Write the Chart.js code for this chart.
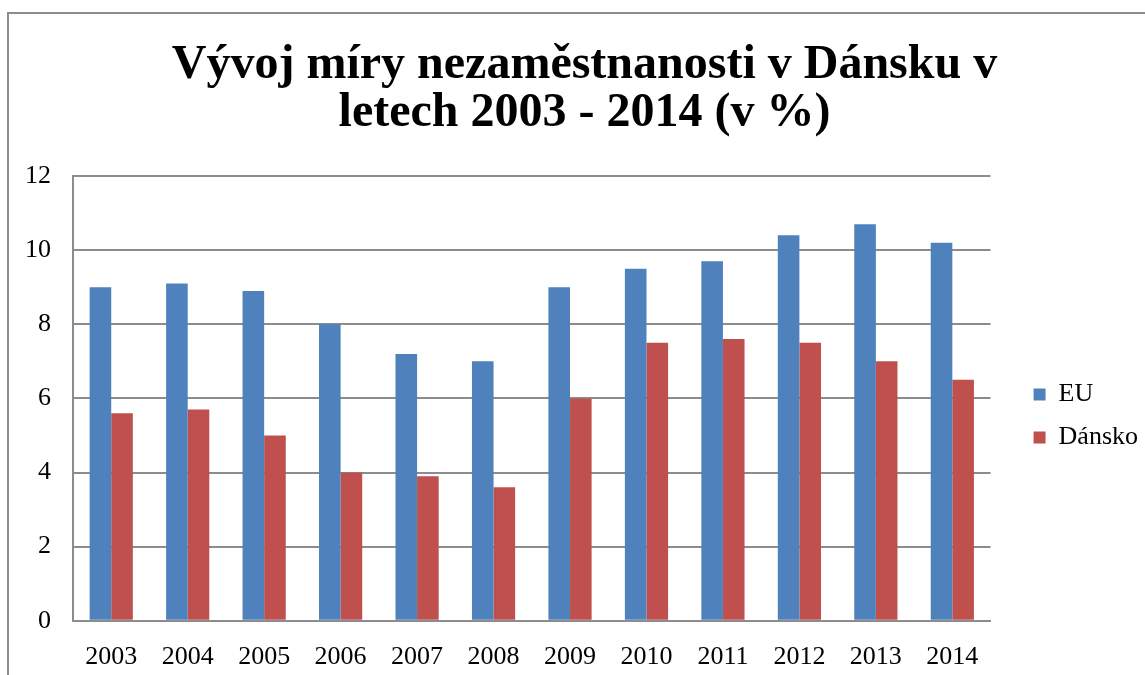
<!DOCTYPE html>
<html>
<head>
<meta charset="utf-8">
<script src="https://cdn.jsdelivr.net/npm/chart.js@4.4.1/dist/chart.umd.min.js"></script>
<style>
  body { margin: 0; background: #fff; }
  #frame { position: absolute; left: 7px; top: 12px; width: 1160px; height: 700px; border: 2px solid #8c8c8c; }
  #wrap { position: absolute; left: 0; top: 0; width: 1145px; height: 675px; }
</style>
</head>
<body>
<div id="frame"></div>
<div id="wrap"><canvas id="chart"></canvas></div>
<script>
// data
const years = ['2003', '2004', '2005', '2006', '2007', '2008', '2009', '2010', '2011', '2012', '2013', '2014'];
const euValues = [9.0, 9.1, 8.9, 8.0, 7.2, 7.0, 9.0, 9.5, 9.7, 10.4, 10.7, 10.2];
const dkValues = [5.6, 5.7, 5.0, 4.0, 3.9, 3.6, 6.0, 7.5, 7.6, 7.5, 7.0, 6.5];
const yTicks = [0, 2, 4, 6, 8, 10, 12];

const serif = '"Liberation Serif", "Times New Roman", serif';
Chart.defaults.font.family = serif;
Chart.defaults.color = '#000';

// nudge legend and title like in the picture
const nudge = {
    id: 'nudge',
    afterLayout(chart) {
        const lg = chart.legend;
        lg.left += 26; lg.right += 26;
        lg.top += 73; lg.bottom += 73;
        const t = chart.titleBlock;
        t.left += 22; t.right += 22;
    }
};

const ctx = document.getElementById('chart').getContext('2d');
const chart = new Chart(ctx, {
    type: 'bar',
    data: {
        labels: years,
        datasets: [
            { label: 'EU', data: euValues, backgroundColor: '#4f81bd' },
            { label: 'Dánsko', data: dkValues, backgroundColor: '#c0504d' }
        ]
    },
    options: {
        responsive: true,
        maintainAspectRatio: false,
        animation: false,
        layout: { padding: { left: 3, right: 23, top: 0, bottom: -11 } },
        datasets: { bar: { categoryPercentage: 0.565, barPercentage: 1 } },
        scales: {
            x: {
                grid: { display: false },
                border: { display: true, color: '#8c8c8c', width: 2 },
                ticks: { font: { size: 26 }, padding: 13, maxRotation: 0 }
            },
            y: {
                min: 0,
                max: 12,
                afterBuildTicks: (axis) => { axis.ticks = yTicks.map(v => ({ value: v })); },
                grid: { color: '#8c8c8c', lineWidth: 2, drawTicks: false },
                border: { display: true, color: '#8c8c8c', width: 2 },
                ticks: { font: { size: 26 }, padding: 22 }
            }
        },
        plugins: {
            title: {
                display: true,
                text: ['Vývoj míry nezaměstnanosti v Dánsku v', 'letech 2003 - 2014 (v %)'],
                font: { size: 48, weight: 'bold', lineHeight: 1.0 },
                padding: { top: 42, bottom: 38 }
            },
            legend: {
                position: 'right',
                labels: { boxWidth: 12, boxHeight: 12, font: { size: 26, lineHeight: 1 }, padding: 17 }
            },
            tooltip: { enabled: false }
        }
    },
    plugins: [nudge]
});
</script>
</body>
</html>
